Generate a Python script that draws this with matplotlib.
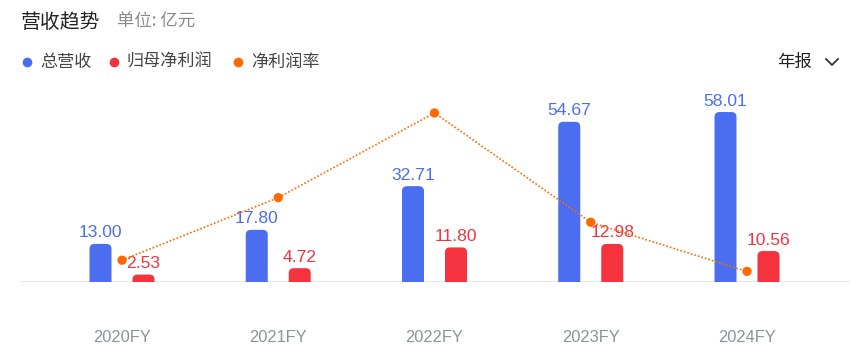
import numpy as np
import matplotlib.pyplot as plt
from matplotlib.patches import FancyBboxPatch
from matplotlib.lines import Line2D

plt.rcParams['font.family'] = ['Noto Sans CJK SC', 'DejaVu Sans']
NUM_FONT = ['Liberation Sans', 'DejaVu Sans']

years = ['2020FY', '2021FY', '2022FY', '2023FY', '2024FY']
revenue = [13.00, 17.80, 32.71, 54.67, 58.01]
net_profit = [2.53, 4.72, 11.80, 12.98, 10.56]
margin = [19.46, 26.52, 36.08, 23.74, 18.20]

BLUE = '#4B6EF0'
RED = '#F5333F'
ORANGE = '#FF6A00'

W, H = 868, 361
fig = plt.figure(figsize=(W / 100, H / 100), dpi=100)

# axes placed in pixel terms: baseline at y=282, top at y=90
left_px, right_px = 20, 850
base_px, top_px = 282, 90
ax = fig.add_axes([left_px / W, (H - base_px) / H,
                   (right_px - left_px) / W, (base_px - top_px) / H])
px_per_x = 156.25
x0_px = 122
ax.set_xlim(-(x0_px - left_px) / px_per_x, 4 + (right_px - (x0_px + 4 * px_per_x)) / px_per_x)
px_per_y = 2.93
ax.set_ylim(0, (base_px - top_px) / px_per_y)
ax.axis('off')

x = np.arange(len(years))
off = 21.5 / px_per_x
bw = 22 / px_per_x
r_px = 5
aspect = (1 / px_per_y) / (1 / px_per_x)
lab_gap = 6.5 / px_per_y


def rounded_bar(xc, h, color):
    ry = r_px / px_per_y
    p = FancyBboxPatch((xc - bw / 2, -ry), bw, h + ry,
                       boxstyle=f"round,pad=0,rounding_size={r_px / px_per_x}",
                       mutation_aspect=aspect, fc=color, ec='none', zorder=2)
    ax.add_patch(p)


for i in x:
    rounded_bar(i - off, revenue[i], BLUE)
    rounded_bar(i + off, net_profit[i], RED)
    ax.text(i - off, revenue[i] + lab_gap, f'{revenue[i]:.2f}', family=NUM_FONT,
            ha='center', va='baseline', color=BLUE, fontsize=12.6, zorder=4)
    ax.text(i + off, net_profit[i] + lab_gap, f'{net_profit[i]:.2f}', family=NUM_FONT,
            ha='center', va='baseline', color=RED, fontsize=12.6, zorder=4)

ax.axhline(0, color='#E3E3E3', lw=1.2, zorder=1)

ax2 = ax.twinx()
ax2.set_ylim(17.0, 17.0 + (base_px - top_px) / 8.86)
ax2.axis('off')
ax2.plot(x, margin, color=ORANGE, lw=1.2, ls=(0, (1, 1.2)), zorder=3)
ax2.scatter(x, margin, s=45, color=ORANGE, zorder=3, edgecolors='none')

for i, y in enumerate(years):
    fig.text((x0_px + i * px_per_x) / W, 1 - 337 / H, y, ha='center', va='center',
             color='#8C929C', fontsize=11.8, family=NUM_FONT)

# header
fig.text(21 / W, 1 - 22 / H, '营收趋势', ha='left', va='center', fontsize=14.3, color='#222222')
fig.text(117 / W, 1 - 22 / H, '单位: 亿元', ha='left', va='center', fontsize=12.5, color='#8A8A8A')

legend_items = [(27, '总营收', BLUE), (114, '归母净利润', RED), (238, '净利润率', ORANGE)]
for xp, lab, c in legend_items:
    fig.lines.append(Line2D([xp / W], [1 - 62 / H], transform=fig.transFigure, marker='o',
                            markersize=7, color=c, markeredgewidth=0, ls='none'))
    fig.text((xp + 13) / W, 1 - 62 / H, lab, ha='left', va='center', fontsize=12.3, color='#444444')

fig.text(777 / W, 1 - 62 / H, '年报', ha='left', va='center', fontsize=12.5, color='#222222')
fig.lines.append(Line2D([826 / W, 832 / W, 838 / W], [1 - 59 / H, 1 - 65 / H, 1 - 59 / H],
                        transform=fig.transFigure, color='#333333', lw=1.3))

fig.savefig('out.png', dpi=100)
